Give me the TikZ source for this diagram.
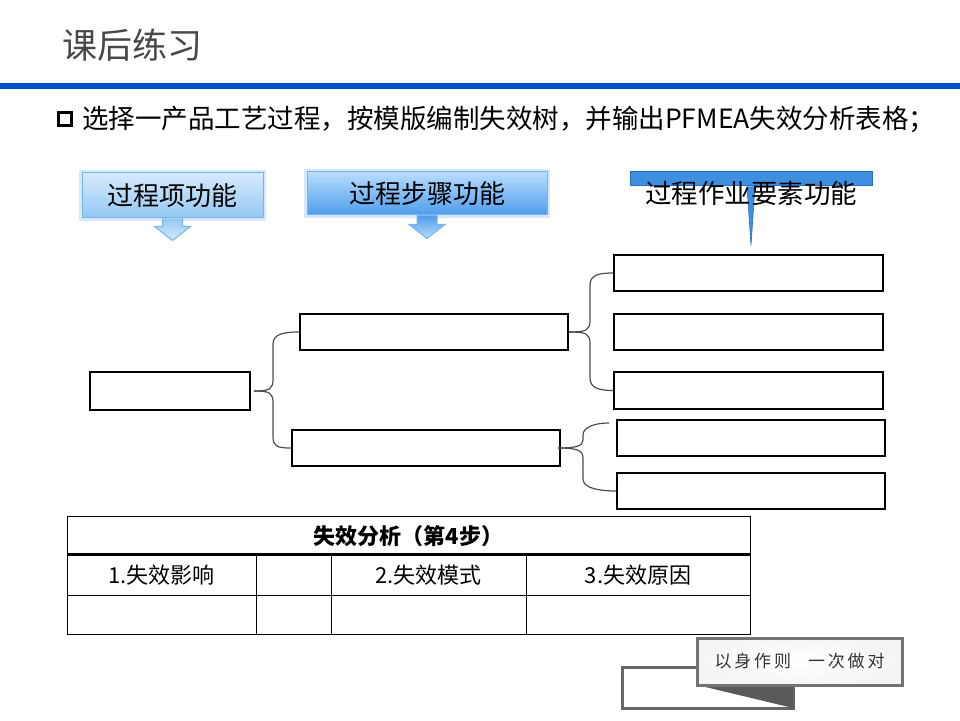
\documentclass[tikz,border=0pt]{standalone}
\usepackage{fontspec}
\setmainfont{Noto Sans CJK SC}
\usetikzlibrary{calc, positioning}

\definecolor{barblue}{HTML}{0050CC}
\definecolor{capAtop}{HTML}{D6EBFD}
\definecolor{capAbot}{HTML}{93C7F3}
\definecolor{capBtop}{HTML}{B9DDFF}
\definecolor{capBbot}{HTML}{4F9CEB}
\definecolor{calline}{HTML}{78B4EC}
\definecolor{glow}{HTML}{D4E9FC}
\definecolor{barfill}{HTML}{3F8FE0}
\definecolor{barline}{HTML}{2A6CC0}

\begin{document}
\begin{tikzpicture}[x=1pt, y=1pt,
  tree/.style={draw, line width=2pt, rectangle, minimum height=36, inner sep=0pt},
  brace/.style={draw=black!70, line width=1.2pt},
  callout/.style={draw=calline, line width=1pt, rectangle, align=center, inner sep=0pt,
    font=\fontsize{26}{30}\selectfont, preaction={draw=glow, line width=6pt}},
  callarrow/.style={draw=calline, line width=1pt},
  cell/.style={font=\fontsize{22}{26}\selectfont, inner sep=0pt}
]
\useasboundingbox (0,0) rectangle (960,720);

% ---- Kopf ----
\node[anchor=west, text=black!72, font=\fontsize{35}{40}\selectfont, inner sep=0pt] (title) at (62,675) {课后练习};
\fill[barblue] (0,631) rectangle (960,637);
\node[draw, line width=3.5pt, minimum size=13, inner sep=0pt] (chk) at (65,601) {};
\node[anchor=west, font=\fontsize{26.5}{30}\selectfont, inner sep=0pt] (task) at (82,601) {选择一产品工艺过程，按模版编制失效树，并输出PFMEA失效分析表格；};

% ---- Spaltenkoepfe ----
\node[callout, top color=capAtop, bottom color=capAbot, minimum width=181, minimum height=45] (itemfn) at (172.5,524.5) {过程项功能};
\path[callarrow, top color=capAbot, bottom color=capAtop] ($(itemfn.south)+(-10,0)$) -- ++(0,-8) -- ++(-8,0) -- ++(18,-14) -- ++(18,14) -- ++(-8,0) -- ++(0,8);
\node[callout, top color=capBtop, bottom color=capBbot, minimum width=240, minimum height=43] (stepfn) at (427,526.5) {过程步骤功能};
\path[callarrow, top color=capBbot, bottom color=capBtop] ($(stepfn.south)+(-10,0)$) -- ++(0,-9) -- ++(-8,0) -- ++(18,-14) -- ++(18,14) -- ++(-8,0) -- ++(0,9);
\node[draw=barline, line width=1pt, fill=barfill, minimum width=242, minimum height=14, inner sep=0pt] (elembar) at (751,541) {};
\filldraw[draw=barline, fill=barfill, line width=0.6pt] ($(elembar.south)+(-4,0)$) -- ($(elembar.south)+(0,-59)$) -- ($(elembar.south)+(4,0)$);
\node[font=\fontsize{26.5}{30}\selectfont, inner sep=0pt] (elemfn) at (751,527) {过程作业要素功能};

% ---- Fehlerbaum ----
\node[tree, minimum width=160, minimum height=38] (item) at (170,329) {};
\node[tree, minimum width=268] (step1) at (434,388) {};
\node[tree, minimum width=268] (step2) at (426,272) {};
\node[tree, minimum width=269] (elem1) at (748.5,447) {};
\node[tree, minimum width=269] (elem2) at (748.5,388) {};
\node[tree, minimum width=269, minimum height=37] (elem3) at (748.5,329.5) {};
\node[tree, minimum width=268] (elem4) at (751,282) {};
\node[tree, minimum width=268] (elem5) at (751,229) {};
\coordinate (elem4in) at ($(elem4.north west)+(-7,-4)$);

\draw[brace] ($(item.east)+(3,0)$) .. controls +(16,0) and +(0,-10) .. (273,341) -- (273,376) .. controls +(0,10) and +(-15,0) .. (step1.west);
\draw[brace] ($(item.east)+(3,0)$) .. controls +(16,0) and +(0,10) .. (273,317) -- (273,284) .. controls +(0,-10) and +(-15,0) .. (step2.west);
\draw[brace] (step1.east) .. controls +(18,0) and +(0,-10) .. (590,400) -- (590,435) .. controls +(0,10) and +(-14,0) .. (elem1.west);
\draw[brace] (step1.east) .. controls +(18,0) and +(0,10) .. (590,376) -- (590,342) .. controls +(0,-10) and +(-14,0) .. (elem3.west);
\draw[brace] ($(step2.east)+(-3,0)$) .. controls +(18,0) and +(0,-6) .. (583,280) -- (583,285) .. controls +(0,8) and +(-14,0) .. (elem4in);
\draw[brace] ($(step2.east)+(-3,0)$) .. controls +(18,0) and +(0,8) .. (583,262) -- (583,241) .. controls +(0,-10) and +(-14,0) .. (elem5.west);

% ---- Tabelle ----
\draw[line width=1pt] (67,86) rectangle (750,203);
\draw[line width=3pt] (67,165) -- (750,165);
\draw[line width=1pt] (67,125) -- (750,125);
\foreach \x in {256,331,526} \draw[line width=1pt] (\x,86) -- (\x,165);
\node[cell, font=\fontsize{22}{26}\selectfont\bfseries] (fa) at (408.5,184) {失效分析（第4步）};
\node[cell] (fe) at (161.5,145) {1.失效影响};
\node[cell] (fm) at (428.5,145) {2.失效模式};
\node[cell] (fc) at (638,145) {3.失效原因};

% ---- Stempel ----
\draw[black!60, line width=3pt] (793,35) -- (793,12) -- (622,12) -- (622,53) -- (697,53);
\fill[black!65] (697,35) -- (793,35) -- (793,12) -- cycle;
\node[draw=black!55, line width=3pt, inner color=white, outer color=black!4, minimum width=205, minimum height=47,
  font=\fontsize{17}{20}\selectfont, text=black!80] (motto) at (799.5,58.5) {以\,身\,作\,则\quad 一\,次\,做\,对};

\end{tikzpicture}
\end{document}
